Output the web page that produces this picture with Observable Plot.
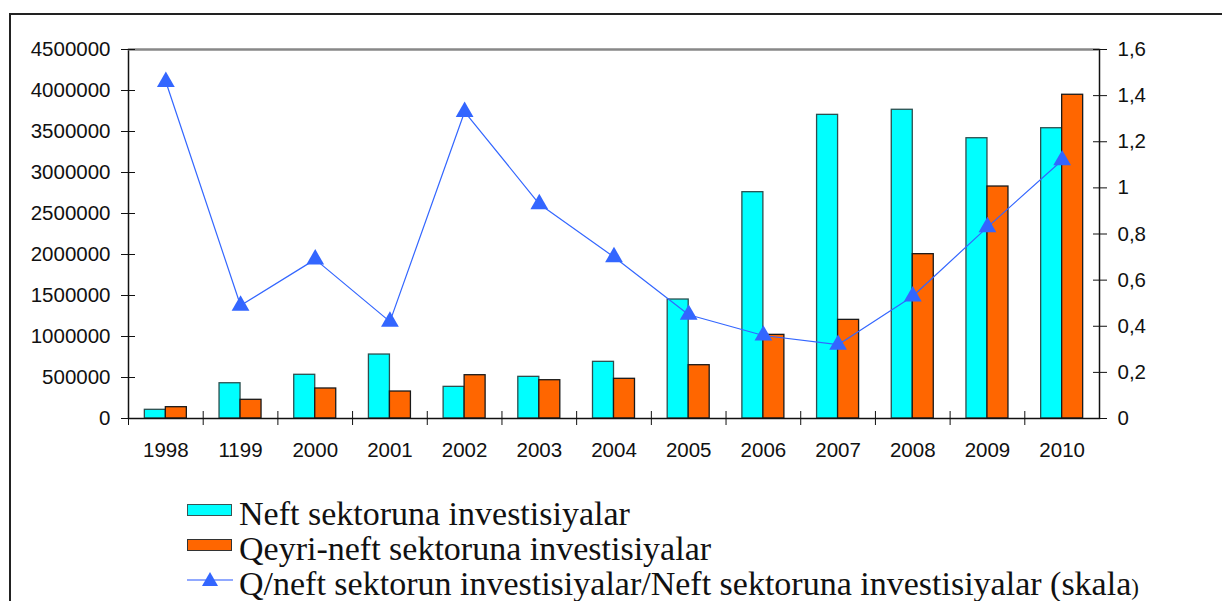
<!DOCTYPE html>
<html>
<head>
<meta charset="utf-8">
<script src="https://cdn.jsdelivr.net/npm/d3@7"></script>
<script src="https://cdn.jsdelivr.net/npm/@observablehq/plot@0.6"></script>
<style>
  html, body { margin: 0; padding: 0; background: #fff; }
  body { width: 1222px; height: 601px; overflow: hidden; position: relative; }
  #frame { position: absolute; left: 9px; top: 13px; width: 1260px; height: 640px;
           border-left: 2px solid #222; border-top: 2px solid #222; box-sizing: border-box; }
  #chart { position: absolute; left: 0; top: 0; }
  #chart svg { overflow: visible; }
  .row { position: absolute; left: 187px; height: 35px; line-height: 35px;
         font-family: "Liberation Serif", "Times New Roman", serif; font-size: 34px; color: #111; white-space: nowrap; }
  .sw { position: absolute; left: 0; top: 8px; width: 45px; height: 12px; box-sizing: border-box; }
  .txt { position: absolute; left: 52px; top: 0; }
  .small { font-size: 23px; }
</style>
</head>
<body>
<div id="frame"></div>
<div id="chart"></div>
<div id="legend"></div>
<script>
// ---- data ----
const years = ["1998", "1199", "2000", "2001", "2002", "2003", "2004", "2005", "2006", "2007", "2008", "2009", "2010"];
const neft  = [106000, 430000, 533000, 780000, 386000, 508000, 691000, 1451000, 2760000, 3703000, 3765000, 3418000, 3540000];
const qeyri = [138000, 228000, 366000, 329000, 528000, 467000, 484000, 650000, 1020000, 1203000, 2004000, 2829000, 3948000];
const ratio = [1.46, 0.49, 0.69, 0.42, 1.33, 0.93, 0.70, 0.45, 0.36, 0.32, 0.53, 0.83, 1.12];
const leftTicks  = [0, 500000, 1000000, 1500000, 2000000, 2500000, 3000000, 3500000, 4000000, 4500000];
const rightTicks = [0, 0.2, 0.4, 0.6, 0.8, 1, 1.2, 1.4, 1.6];
const rightLabels = ["0", "0,2", "0,4", "0,6", "0,8", "1", "1,2", "1,4", "1,6"];
const seriesNames = ["Neft sektoruna investisiyalar", "Qeyri-neft sektoruna investisiyalar",
                     "Q/neft sektorun investisiyalar/Neft sektoruna investisiyalar (skala"];

const yMax = 4500000, rMax = 1.6, k = yMax / rMax;
const W = 1222, H = 470, mL = 128, mR = 123, mT = 49, mB = 52;
const step = (W - mL - mR) / years.length;
const barW = 21;
const pIn = 1 - barW / step;

const rows = years.map((y, i) => ({year: y, neft: neft[i], qeyri: qeyri[i], ratio: ratio[i]}));
const rightLabel = d => rightLabels[rightTicks.findIndex(v => Math.abs(v * k - d) < 1e-3)];
const blank = () => "";

const chart = Plot.plot({
  width: W, height: H,
  marginLeft: mL, marginRight: mR, marginTop: mT, marginBottom: mB,
  style: {fontFamily: "'Liberation Sans', Arial, sans-serif", fontSize: "20.5px", color: "#111", background: "transparent", overflow: "visible"},
  x: {type: "band", domain: years, paddingInner: pIn, paddingOuter: pIn / 2, round: false, axis: null},
  y: {domain: [0, yMax], axis: null},
  marks: [
    Plot.barY(rows, {x: "year", y: "neft", dx: -barW / 2, fill: "#00FFFF", stroke: "#2d4f4f", strokeWidth: 1.3}),
    Plot.barY(rows, {x: "year", y: "qeyri", dx: barW / 2, fill: "#FF6600", stroke: "#1a1a1a", strokeWidth: 1.3}),
    Plot.frame({stroke: "#111", strokeWidth: 1.5}),
    Plot.ruleY([yMax], {stroke: "#888", strokeWidth: 2}),
    Plot.lineY(rows, {x: "year", y: d => d.ratio * k, stroke: "#3366FF", strokeWidth: 1.2}),
    Plot.dot(rows, {x: "year", y: d => d.ratio * k, symbol: "triangle", r: 6.6, fill: "#3366FF", stroke: "none"}),
    Plot.axisY(leftTicks, {anchor: "left", tickSize: 14, dx: 7, tickFormat: blank, label: null, stroke: "#111"}),
    Plot.axisY(leftTicks, {anchor: "left", tickSize: 0, tickPadding: 18, tickFormat: d => String(d), label: null, fill: "#111"}),
    Plot.axisY(rightTicks.map(v => v * k), {anchor: "right", tickSize: 14, dx: -7, tickFormat: blank, label: null, stroke: "#111"}),
    Plot.axisY(rightTicks.map(v => v * k), {anchor: "right", tickSize: 0, tickPadding: 18, tickFormat: rightLabel, label: null, fill: "#111"}),
    Plot.axisX({anchor: "bottom", tickSize: 14, dy: -7, dx: -step / 2, tickFormat: blank, label: null, stroke: "#111"}),
    Plot.axisX({anchor: "bottom", tickSize: 0, tickPadding: 24, label: null, fill: "#111"})
  ]
});
document.getElementById("chart").appendChild(chart);

// ---- legend (HTML) ----
const legend = document.getElementById("legend");
const tops = [496, 531, 566];
seriesNames.forEach((name, i) => {
  const row = document.createElement("div");
  row.className = "row";
  row.style.top = tops[i] + "px";
  if (i < 2) {
    const sw = document.createElement("div");
    sw.className = "sw";
    sw.style.background = i === 0 ? "#00FFFF" : "#FF6600";
    sw.style.border = "1.5px solid " + (i === 0 ? "#3a5555" : "#333");
    row.appendChild(sw);
  } else {
    const ns = "http://www.w3.org/2000/svg";
    const s = document.createElementNS(ns, "svg");
    s.setAttribute("width", 46); s.setAttribute("height", 30);
    s.style.position = "absolute"; s.style.left = "0px"; s.style.top = "0px";
    const ln = document.createElementNS(ns, "line");
    ln.setAttribute("x1", 0); ln.setAttribute("x2", 46); ln.setAttribute("y1", 14); ln.setAttribute("y2", 14);
    ln.setAttribute("stroke", "#6d8dff"); ln.setAttribute("stroke-width", 1.5);
    const tri = document.createElementNS(ns, "path");
    tri.setAttribute("d", "M23,6 L31,20 L15,20 Z");
    tri.setAttribute("fill", "#3366FF");
    s.appendChild(ln); s.appendChild(tri);
    row.appendChild(s);
  }
  const t = document.createElement("span");
  t.className = "txt";
  t.textContent = name;
  if (i === 2) {
    const p = document.createElement("span");
    p.className = "small";
    p.textContent = ")";
    t.appendChild(p);
  }
  row.appendChild(t);
  legend.appendChild(row);
});
</script>
</body>
</html>
